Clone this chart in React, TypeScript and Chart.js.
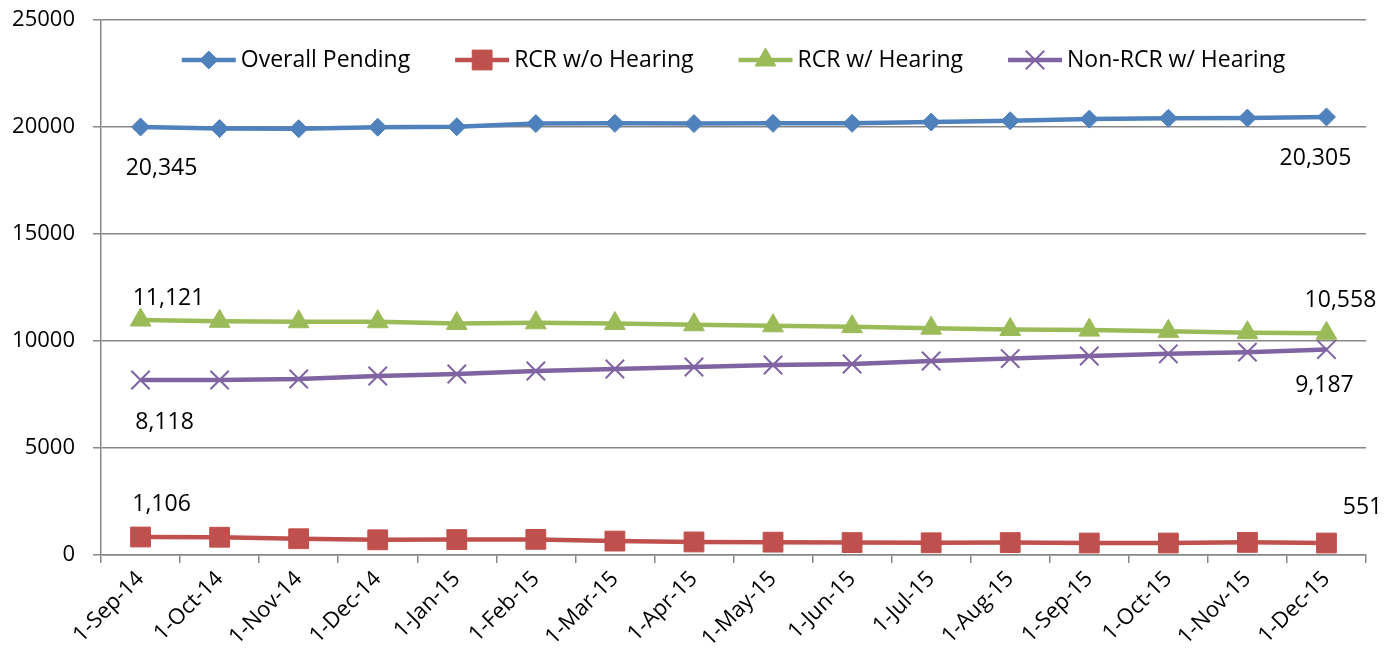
import React, { useEffect, useRef } from "react";
import { Chart, registerables } from "chart.js";

Chart.register(...registerables);

const categories = [
  "1-Sep-14", "1-Oct-14", "1-Nov-14", "1-Dec-14", "1-Jan-15", "1-Feb-15", "1-Mar-15", "1-Apr-15",
  "1-May-15", "1-Jun-15", "1-Jul-15", "1-Aug-15", "1-Sep-15", "1-Oct-15", "1-Nov-15", "1-Dec-15",
];

const overallPending = [20000, 19930, 19920, 19990, 20010, 20160, 20170, 20160, 20170, 20170, 20230, 20290, 20370, 20410, 20420, 20470];
const rcrWithoutHearing = [841, 830, 760, 710, 720, 730, 650, 610, 600, 580, 570, 580, 560, 560, 590, 560];
const rcrWithHearing = [10980, 10920, 10900, 10900, 10820, 10850, 10820, 10760, 10710, 10670, 10600, 10540, 10510, 10450, 10390, 10360];
const nonRcrWithHearing = [8178, 8178, 8224, 8364, 8458, 8598, 8692, 8785, 8879, 8925, 9065, 9180, 9300, 9400, 9480, 9600];

const seriesNames = ["Overall Pending", "RCR w/o Hearing", "RCR w/ Hearing", "Non-RCR w/ Hearing"];
const seriesColors = ["#4F81BD", "#C0504D", "#9BBB59", "#8064A2"];
const startLabels = ["20,345", "1,106", "11,121", "8,118"];
const endLabels = ["20,305", "551", "10,558", "9,187"];

const yMin = 0;
const yMax = 25000;
const yStep = 5000;

const FONT = '"Open Sans", "Noto Sans", sans-serif';
const TICK_SIZE = 22;
const XTICK_SIZE = 22;
const LABEL_SIZE = 23;

const pointStyles: any[] = ["rectRot", "rect", "triangle", "crossRot"];
const pointRadii = [9, 14, 12, 13];

function drawPoint(ctx: CanvasRenderingContext2D, style: string, r: number, x: number, y: number) {
  ctx.beginPath();
  if (style === "rectRot") {
    ctx.moveTo(x, y - r);
    ctx.lineTo(x + r, y);
    ctx.lineTo(x, y + r);
    ctx.lineTo(x - r, y);
    ctx.closePath();
    ctx.fill();
    ctx.stroke();
  } else if (style === "rect") {
    const s = Math.SQRT1_2 * r;
    ctx.rect(x - s, y - s, 2 * s, 2 * s);
    ctx.fill();
    ctx.stroke();
  } else if (style === "triangle") {
    let rad = 0;
    ctx.moveTo(x + Math.sin(rad) * r, y - Math.cos(rad) * r);
    rad += (2 * Math.PI) / 3;
    ctx.lineTo(x + Math.sin(rad) * r, y - Math.cos(rad) * r);
    rad += (2 * Math.PI) / 3;
    ctx.lineTo(x + Math.sin(rad) * r, y - Math.cos(rad) * r);
    ctx.closePath();
    ctx.fill();
    ctx.stroke();
  } else {
    const o = Math.SQRT1_2 * r;
    ctx.moveTo(x - o, y - o);
    ctx.lineTo(x + o, y + o);
    ctx.moveTo(x + o, y - o);
    ctx.lineTo(x - o, y + o);
    ctx.stroke();
  }
}

const endLabelPlugin = {
  id: "endLabels",
  afterDatasetsDraw(chart: any) {
    const ctx = chart.ctx;
    const startOff = [[21, 41], [21, -33], [28, -22], [24, 42]];
    const endOff = [[-11, 42], [36, -36], [14, -33], [-2, 36]];
    ctx.save();
    ctx.font = `${LABEL_SIZE}px ${FONT}`;
    ctx.fillStyle = "#000";
    ctx.textAlign = "center";
    ctx.textBaseline = "middle";
    chart.data.datasets.forEach((_: any, i: number) => {
      const meta = chart.getDatasetMeta(i);
      const first = meta.data[0];
      const last = meta.data[meta.data.length - 1];
      ctx.fillText(startLabels[i], first.x + startOff[i][0], first.y + startOff[i][1]);
      ctx.fillText(endLabels[i], last.x + endOff[i][0], last.y + endOff[i][1]);
    });
    ctx.restore();
  },
};

const legendPlugin = {
  id: "lineLegend",
  afterDraw(chart: any) {
    const ctx = chart.ctx;
    const area = chart.chartArea;
    const lineLen = 54;
    const textGap = 5;
    const itemGap = 45;
    ctx.save();
    ctx.font = `${LABEL_SIZE}px ${FONT}`;
    const widths = seriesNames.map((n) => ctx.measureText(n).width);
    const total = widths.reduce((a, w) => a + lineLen + textGap + w, 0) + itemGap * (seriesNames.length - 1);
    let x = (area.left + area.right) / 2 - total / 2;
    const y = area.top + 40;
    seriesNames.forEach((name, i) => {
      ctx.strokeStyle = seriesColors[i];
      ctx.lineWidth = 4.5;
      ctx.beginPath();
      ctx.moveTo(x, y);
      ctx.lineTo(x + lineLen, y);
      ctx.stroke();
      ctx.fillStyle = seriesColors[i];
      ctx.strokeStyle = seriesColors[i];
      ctx.lineWidth = i === 3 ? 2 : 1;
      drawPoint(ctx, pointStyles[i], pointRadii[i], x + lineLen / 2, y);
      ctx.fillStyle = "#000";
      ctx.textAlign = "left";
      ctx.textBaseline = "middle";
      ctx.fillText(name, x + lineLen + textGap, y);
      x += lineLen + textGap + widths[i] + itemGap;
    });
    ctx.restore();
  },
};

export default function App() {
  const ref = useRef<HTMLCanvasElement | null>(null);

  useEffect(() => {
    if (!ref.current) return;
    const seriesData = [overallPending, rcrWithoutHearing, rcrWithHearing, nonRcrWithHearing];
    const chart = new Chart(ref.current, {
      type: "line",
      data: {
        labels: categories,
        datasets: seriesData.map((d, i) => ({
          label: seriesNames[i],
          data: d,
          borderColor: seriesColors[i],
          backgroundColor: seriesColors[i],
          borderWidth: 4.5,
          pointStyle: pointStyles[i],
          pointRadius: pointRadii[i],
          pointHoverRadius: pointRadii[i],
          pointBackgroundColor: seriesColors[i],
          pointBorderColor: seriesColors[i],
          pointBorderWidth: i === 3 ? 2 : 1,
          tension: 0,
          fill: false,
        })),
      },
      options: {
        responsive: false,
        animation: false,
        layout: { padding: { left: 0, right: 31, top: 20, bottom: 0 } },
        plugins: {
          legend: { display: false },
          tooltip: { enabled: false },
          title: { display: false },
        },
        scales: {
          x: {
            offset: true,
            grid: {
              display: true,
              drawOnChartArea: false,
              offset: true,
              color: "#878787",
              lineWidth: 1.5,
              tickLength: 8,
            },
            border: { color: "#878787", width: 1.5 },
            ticks: {
              autoSkip: false,
              minRotation: 45,
              maxRotation: 45,
              padding: 3,
              color: "#000",
              font: { family: FONT, size: XTICK_SIZE },
            },
            afterFit: (scale: any) => {
              scale.height = 105;
              scale.paddingLeft = 0;
              scale.paddingRight = 0;
              scale.paddingTop = 0;
              scale.paddingBottom = 0;
            },
          },
          y: {
            min: yMin,
            max: yMax,
            grid: {
              color: "#878787",
              lineWidth: 1.5,
              tickLength: 8,
            },
            border: { color: "#878787", width: 1.5 },
            ticks: {
              stepSize: yStep,
              padding: 18,
              color: "#000",
              font: { family: FONT, size: TICK_SIZE },
              callback: (v: any) => String(v),
            },
            afterFit: (scale: any) => {
              scale.width = 101;
              scale.paddingTop = 0;
              scale.paddingBottom = 0;
            },
          },
        },
      },
      plugins: [endLabelPlugin, legendPlugin],
    });
    return () => chart.destroy();
  }, []);

  return (
    <div style={{ position: "absolute", left: 0, top: 0, width: 1397, height: 660, background: "#fff" }}>
      <canvas ref={ref} width={1397} height={660} style={{ display: "block" }} />
    </div>
  );
}
